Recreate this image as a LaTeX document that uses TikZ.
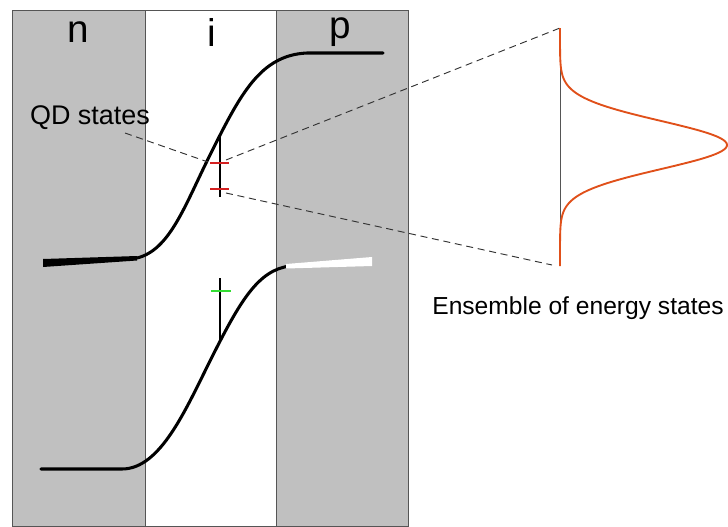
\documentclass[tikz,border=0pt]{standalone}
\usepackage{fontspec}
\setmainfont{Liberation Sans}
\usetikzlibrary{positioning,calc}
\definecolor{panelgrey}{HTML}{C0C0C0}
\definecolor{edgegrey}{HTML}{555555}
\definecolor{qdred}{HTML}{D42020}
\definecolor{qdgreen}{HTML}{33DD33}
\definecolor{dosorange}{HTML}{E0501A}
\tikzset{
  panel/.style  = {draw=edgegrey, line width=0.7pt},
  band/.style   = {line width=2.6pt, line cap=round},
  qdbar/.style  = {line width=1.4pt},
  qdtick/.style = {line width=1.4pt},
  guide/.style  = {draw=black!80, line width=0.8pt, dash pattern=on 6pt off 4pt},
  dos/.style    = {draw=dosorange, line width=1.6pt},
  region/.style = {font=\fontsize{33}{33}\selectfont, inner sep=0pt},
  lbl/.style    = {font=\fontsize{21}{21}\selectfont, inner sep=0pt},
}

\begin{document}
\begin{tikzpicture}[x=0.03cm, y=-0.03cm]
  \useasboundingbox (0,0) rectangle (728,526);
  % n-i-p layers
  \filldraw[panel, fill=panelgrey] (12,10) rectangle (145,526);
  \filldraw[panel, fill=white]     (145,10) rectangle (276,526);
  \filldraw[panel, fill=panelgrey] (276,10) rectangle (408,526);
  \node[region] (nlay) at (78,32)  {n};
  \node[region] (ilay) at (212,32) {i};
  \node[region] (play) at (340,32) {p};
  % conduction band
  \fill (43,259) -- (137,256) -- (137,260.5) -- (43,267) -- cycle;
  \draw[band] (137,258) .. controls (170,250) and (185,205) .. (210,155)
              .. controls (240,95) and (260,55) .. (307,53) -- (383,53);
  % valence band
  \draw[band] (41,469) -- (122,469) .. controls (160,469) and (185,411) .. (210,361)
              .. controls (240,301) and (258,270) .. (290,266);
  \fill[white] (286,264) -- (372,257) -- (372,266) -- (286,268.5) -- cycle;
  % QD states
  \coordinate (cbtop) at (220,137);
  \coordinate (cbbot) at (220,197);
  \coordinate (vbtop) at (220,278);
  \coordinate (vbbot) at (220,343);
  \draw[qdbar] (cbtop) -- (cbbot);
  \draw[qdbar] (vbtop) -- (vbbot);
  \coordinate (e1l) at (210,163); \coordinate (e1r) at (229,163);
  \coordinate (e2l) at (210,189); \coordinate (e2r) at (229,189);
  \coordinate (h1l) at (211,291); \coordinate (h1r) at (231,291);
  \draw[qdtick, qdred]   (e1l) -- (e1r);
  \draw[qdtick, qdred]   (e2l) -- (e2r);
  \draw[qdtick, qdgreen] (h1l) -- (h1r);
  \node[lbl, font=\fontsize{23}{23}\selectfont] (qd) at (90,118) {QD states};
  \coordinate (qdend) at (125,133);
  % zoom onto the density of states
  \coordinate (dostop) at (560,28);
  \coordinate (dosbot) at (560,266);
  \draw[guide] (qdend) -- (208,162);
  \draw[guide] (226,160) -- (dostop);
  \draw[guide] (226,193) -- (552,265);
  \draw[edgegrey, line width=0.5pt] (dostop) -- (dosbot);
  \draw[dos] plot[domain=28:266, samples=150, variable=\y]
    ({560+167*exp(-((\y-145)/24)^2/2)}, {\y});
  \node[lbl] (ens) at (578,308) {Ensemble of energy states};
\end{tikzpicture}
\end{document}
